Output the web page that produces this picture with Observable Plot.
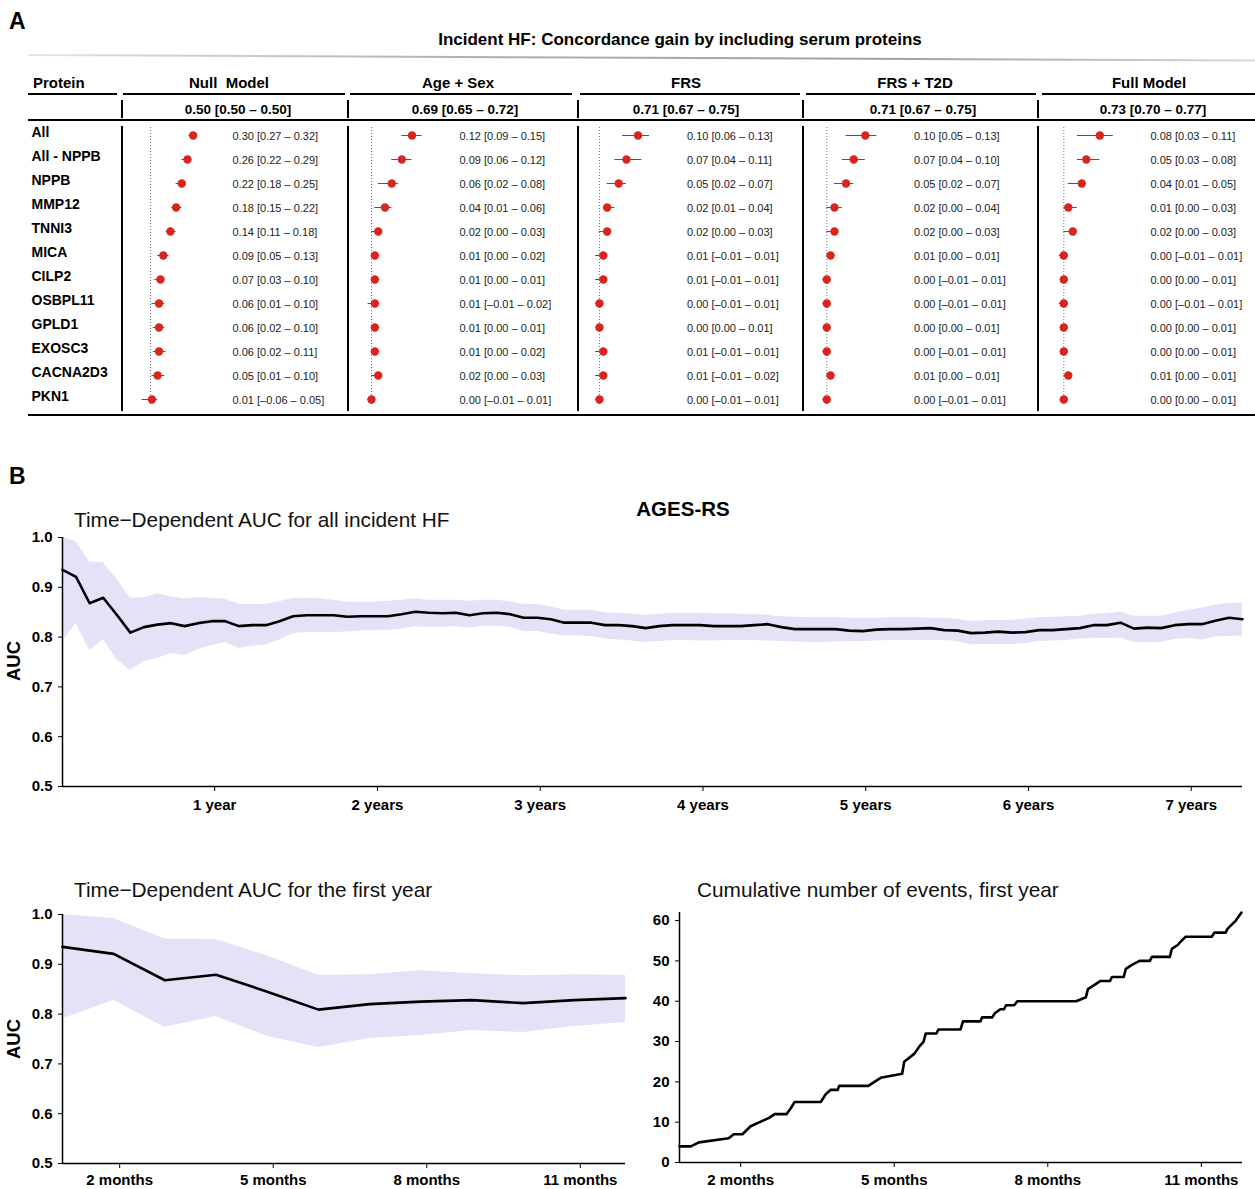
<!DOCTYPE html>
<html><head><meta charset="utf-8">
<script src="https://cdn.jsdelivr.net/npm/d3@7"></script>
<script src="https://cdn.jsdelivr.net/npm/@observablehq/plot@0.6"></script>
<style>
body{margin:0;background:#fff;font-family:"Liberation Sans",Arial,Helvetica,sans-serif;}
#fig{position:relative;width:1255px;height:1189px;overflow:hidden;background:#fff;}
.t{position:absolute;white-space:pre;color:#000;line-height:1;}
.ln{position:absolute;background:#000;}
</style></head><body><div id="fig"></div>
<script>
// ---------- Panel A data ----------
const proteins = ["All","All - NPPB","NPPB","MMP12","TNNI3","MICA","CILP2","OSBPL11","GPLD1","EXOSC3","CACNA2D3","PKN1"];
const modelNames = ["Null  Model","Age + Sex","FRS","FRS + T2D","Full Model"];
const modelBaseline = ["0.50 [0.50 – 0.50]","0.69 [0.65 – 0.72]","0.71 [0.67 – 0.75]","0.71 [0.67 – 0.75]","0.73 [0.70 – 0.77]"];

const nullEst = [0.30,0.26,0.22,0.18,0.14,0.09,0.07,0.06,0.06,0.06,0.05,0.01];
const nullLo  = [0.27,0.22,0.18,0.15,0.11,0.05,0.03,0.01,0.02,0.02,0.01,-0.06];
const nullHi  = [0.32,0.29,0.25,0.22,0.18,0.13,0.10,0.10,0.10,0.11,0.10,0.05];

const ageEst = [0.12,0.09,0.06,0.04,0.02,0.01,0.01,0.01,0.01,0.01,0.02,0.00];
const ageLo  = [0.09,0.06,0.02,0.01,0.00,0.00,0.00,-0.01,0.00,0.00,0.00,-0.01];
const ageHi  = [0.15,0.12,0.08,0.06,0.03,0.02,0.01,0.02,0.01,0.02,0.03,0.01];

const frsEst = [0.10,0.07,0.05,0.02,0.02,0.01,0.01,0.00,0.00,0.01,0.01,0.00];
const frsLo  = [0.06,0.04,0.02,0.01,0.00,-0.01,-0.01,-0.01,0.00,-0.01,-0.01,-0.01];
const frsHi  = [0.13,0.11,0.07,0.04,0.03,0.01,0.01,0.01,0.01,0.01,0.02,0.01];

const t2dEst = [0.10,0.07,0.05,0.02,0.02,0.01,0.00,0.00,0.00,0.00,0.01,0.00];
const t2dLo  = [0.05,0.04,0.02,0.00,0.00,0.00,-0.01,-0.01,0.00,-0.01,0.00,-0.01];
const t2dHi  = [0.13,0.10,0.07,0.04,0.03,0.01,0.01,0.01,0.01,0.01,0.01,0.01];

const fullEst = [0.08,0.05,0.04,0.01,0.02,0.00,0.00,0.00,0.00,0.00,0.01,0.00];
const fullLo  = [0.03,0.03,0.01,0.00,0.00,-0.01,0.00,-0.01,0.00,0.00,0.00,0.00];
const fullHi  = [0.11,0.08,0.05,0.03,0.03,0.01,0.01,0.01,0.01,0.01,0.01,0.01];

// ---------- Panel B data (monthly time-dependent AUC, months 1..88) ----------
const aucEst = [
0.935,0.921,0.868,0.879,0.845,0.809,0.820,0.825,0.828,0.822,0.828,0.832,
0.832,0.822,0.824,0.824,0.832,0.842,0.844,0.844,0.844,0.841,0.842,0.842,
0.842,0.846,0.851,0.849,0.848,0.849,0.844,0.848,0.849,0.846,0.839,0.839,
0.836,0.829,0.829,0.829,0.824,0.824,
0.822,0.818,0.822,0.824,0.824,0.824,0.822,0.822,0.822,0.824,0.826,0.820,
0.816,0.816,0.816,0.816,0.813,0.812,0.815,0.816,0.816,0.817,0.818,0.814,
0.813,0.808,0.809,0.811,0.809,0.810,0.814,0.814,0.816,0.818,0.824,0.824,
0.829,0.817,0.819,0.818,0.824,0.826,0.826,0.833,0.839,0.836];
const aucHi = [
1.000,0.992,0.951,0.950,0.917,0.878,0.879,0.887,0.881,0.877,0.879,0.878,
0.876,0.866,0.866,0.866,0.871,0.878,0.878,0.877,0.874,0.870,0.870,0.870,
0.872,0.874,0.877,0.874,0.874,0.874,0.872,0.874,0.874,0.871,0.866,0.866,
0.861,0.854,0.854,0.854,0.849,0.848,
0.846,0.844,0.846,0.848,0.848,0.848,0.847,0.847,0.846,0.846,0.844,0.841,
0.840,0.839,0.839,0.839,0.838,0.838,0.838,0.839,0.839,0.839,0.838,0.838,
0.836,0.832,0.833,0.834,0.834,0.836,0.839,0.840,0.841,0.842,0.846,0.847,
0.851,0.842,0.842,0.842,0.848,0.854,0.858,0.864,0.868,0.868];
const aucLo = [
0.790,0.828,0.773,0.795,0.755,0.733,0.751,0.757,0.767,0.763,0.775,0.783,
0.789,0.777,0.782,0.784,0.794,0.807,0.809,0.809,0.809,0.810,0.813,0.813,
0.814,0.816,0.821,0.820,0.820,0.821,0.818,0.822,0.822,0.820,0.811,0.811,
0.806,0.802,0.802,0.801,0.796,0.794,
0.792,0.789,0.791,0.793,0.793,0.792,0.792,0.793,0.793,0.793,0.792,0.791,
0.790,0.789,0.789,0.790,0.791,0.791,0.792,0.793,0.793,0.793,0.793,0.793,
0.791,0.784,0.785,0.785,0.785,0.787,0.791,0.792,0.793,0.796,0.797,0.797,
0.798,0.789,0.789,0.789,0.795,0.797,0.794,0.800,0.801,0.802];
const aucTicks = [0.5,0.6,0.7,0.8,0.9,1.0];
const yearTickMonths = [12,24,36,48,60,72,84];
const yearTickLabels = ["1 year","2 years","3 years","4 years","5 years","6 years","7 years"];
const monthTicks = [2,5,8,11];
const monthTickLabels = ["2 months","5 months","8 months","11 months"];

// cumulative number of events, first year
const evMonths = [1.00,1.22,1.38,1.96,2.06,2.23,2.39,2.74,2.86,3.09,3.15,3.25,3.76,3.86,3.95,4.09,4.12,4.69,4.81,4.93,5.35,5.39,5.59,5.70,5.77,5.81,6.02,6.06,6.49,6.54,6.88,6.91,7.11,7.16,7.27,7.34,7.38,7.54,7.60,8.75,8.94,8.98,9.10,9.22,9.41,9.45,9.68,9.72,9.84,9.99,10.19,10.23,10.58,10.62,10.74,10.81,10.89,11.40,11.45,11.67,11.71,11.79,11.87,11.98];
const evCount = [4,4,5,6,7,7,9,11,12,12,13,15,15,17,18,18,19,19,20,21,22,25,27,29,30,32,32,33,33,35,35,36,36,37,38,38,39,39,40,40,41,43,44,45,45,46,46,48,49,50,50,51,51,53,54,55,56,56,57,57,58,59,60,62];
const evTicks = [0,10,20,30,40,50,60];

// ---------- helpers ----------
const FONT = '"Liberation Sans", Arial, Helvetica, sans-serif';
const BAND = "#e4e2f7";
const fig = document.getElementById("fig");
function place(el, left, top){ el.style.position="absolute"; el.style.left=left+"px"; el.style.top=top+"px"; fig.appendChild(el); }
function txt(s, left, top, size, weight, opts={}){
  const d=document.createElement("div"); d.className="t"; d.textContent=s;
  d.style.fontSize=size+"px"; d.style.fontWeight=weight||"normal";
  if(opts.center!==undefined){ d.style.left=(opts.center-500)+"px"; d.style.width="1000px"; d.style.textAlign="center"; }
  else d.style.left=left+"px";
  d.style.top=top+"px"; if(opts.color) d.style.color=opts.color;
  fig.appendChild(d); return d;
}
function line(left, top, w, h, color){ const d=document.createElement("div"); d.className="ln"; Object.assign(d.style,{left:left+"px",top:top+"px",width:w+"px",height:h+"px"}); if(color) d.style.background=color; fig.appendChild(d); return d; }

// ---------- Panel A layout ----------
txt("A", 9, 10, 23, "bold");
txt("Incident HF: Concordance gain by including serum proteins", 0, 31, 17, "bold", {center: 680});
const g = line(28, 54, 1227, 2, "linear-gradient(90deg,#e4e4e4,#b0b0b0 35%,#a0a0a0 70%,#d8d8d8)");
g.style.transform="rotate(0.26deg)"; g.style.transformOrigin="left center";

txt("Protein", 33, 74.5, 15, "bold");
const titleCenters = [229, 458, 686, 915, 1149];
const baseCenters = [238, 465, 686, 923, 1153];
modelNames.forEach((m,i)=>{ txt(m, 0, 74.5, 15, "bold", {center: titleCenters[i]}); txt(modelBaseline[i], 0, 102.5, 13.5, "bold", {center: baseCenters[i]}); });
[[28,117],[123,345],[350,572],[580,800],[806,1036],[1042,1255]].forEach(([a,b])=>line(a,93,b-a,1.5));
const seps = [122,348,578,803,1038];
seps.forEach(x=>{ line(x-0.75,100,1.5,18); line(x-0.75,126,1.5,285); });
line(28,118.5,1227,2);
line(28,413.5,1227,2);

// rows occupy y 136..398 in the page; SVGs start at y=120 (point scale adds a 5px inset)
const ROW_TOP = 11, ROW_BOTTOM = 12, SVG_H = 295;

// protein labels
place(Plot.plot({
  width: 92, height: SVG_H, marginTop: ROW_TOP, marginBottom: ROW_BOTTOM, marginLeft: 0, marginRight: 0,
  y: {type: "point", domain: proteins, padding: 0, axis: null},
  style: {fontFamily: FONT, background: "transparent", overflow: "visible"},
  marks: [Plot.text(proteins, {frameAnchor: "left", y: d => d, text: d => d, dx: 3, dy: -3, fontSize: 14, fontWeight: "bold", textAnchor: "start", fill: "#000"})]
}), 28, 120);

const fmt = v => (Math.abs(v) < 1e-9 ? 0 : v).toFixed(2).replace("-", "–");
function forest(est, lo, hi, geo){
  const rows = proteins.map((p,i)=>({p, e: est[i], lo: lo[i], hi: hi[i]}));
  const dom = [d3.min(lo), d3.max(hi)];
  const left = geo.colLeft + 1, w = geo.colRight - geo.colLeft - 2;
  const p = Plot.plot({
    width: w, height: SVG_H, marginTop: ROW_TOP, marginBottom: ROW_BOTTOM, marginLeft: 0, marginRight: 0,
    x: {domain: dom, range: [geo.plotL - left, geo.plotR - left], axis: null},
    y: {type: "point", domain: proteins, padding: 0, axis: null},
    style: {fontFamily: FONT, background: "transparent", overflow: "visible"},
    marks: [
      Plot.ruleX([0], {stroke: "#777", strokeDasharray: "1,2", strokeWidth: 1, insetTop: -4, insetBottom: -2}),
      Plot.ruleY(rows, {y: "p", x1: "lo", x2: "hi", stroke: "#555", strokeWidth: 1}),
      Plot.dot(rows, {x: "e", y: "p", r: 4.2, fill: "#d7261d", stroke: "none"}),
      Plot.text(rows, {x: () => dom[1], y: "p", text: d => `${fmt(d.e)} [${fmt(d.lo)} – ${fmt(d.hi)}]`,
        textAnchor: "start", dx: geo.textX - geo.plotR, dy: 1, fontSize: 11, fill: "#222"})
    ]
  });
  place(p, left, 120);
}
forest(nullEst, nullLo, nullHi, {colLeft:122, colRight:348, plotL:141.5, plotR:195.5, textX:232});
forest(ageEst, ageLo, ageHi, {colLeft:348, colRight:578, plotL:367.6, plotR:421.6, textX:459});
forest(frsEst, frsLo, frsHi, {colLeft:578, colRight:803, plotL:595.1, plotR:649.1, textX:686.5});
forest(t2dEst, t2dLo, t2dHi, {colLeft:803, colRight:1038, plotL:822.4, plotR:876.4, textX:913.5});
forest(fullEst, fullLo, fullHi, {colLeft:1038, colRight:1256, plotL:1058.8, plotR:1112.8, textX:1150});

// ---------- Panel B ----------
txt("B", 9, 465, 23, "bold");
txt("AGES-RS", 0, 499, 20.5, "bold", {center: 683});
txt("Time−Dependent AUC for all incident HF", 74, 510, 20.8, "normal", {color:"#111"});
txt("Time−Dependent AUC for the first year", 74, 880, 20.8, "normal", {color:"#111"});
txt("Cumulative number of events, first year", 697, 880, 20.8, "normal", {color:"#111"});
function vlabel(s, cx, cy){ const d=txt(s,0,0,18.5,"bold"); Object.assign(d.style,{left:(cx-50)+"px",top:(cy-10)+"px",width:"100px",height:"20px",lineHeight:"20px",textAlign:"center",transform:"rotate(-90deg)"}); }
vlabel("AUC", 14, 661);
vlabel("AUC", 14, 1039);

const aucAll = aucEst.map((v,i)=>({m: i+1, est: v, lo: aucLo[i], hi: aucHi[i]}));
const aucYear1 = aucAll.slice(0, 12);
const axStyle = {fontFamily: FONT, fontSize: "15px", fontWeight: "bold", background: "transparent", color: "#000"};

place(Plot.plot({
  width: 1255, height: 300, marginLeft: 62, marginRight: 13, marginTop: 12, marginBottom: 39,
  x: {domain: [1, 88]}, y: {domain: [0.5, 1.0]},
  style: axStyle,
  marks: [
    Plot.areaY(aucAll, {x: "m", y1: "lo", y2: "hi", fill: BAND}),
    Plot.lineY(aucAll, {x: "m", y: "est", stroke: "#000", strokeWidth: 2.6}),
    Plot.ruleX([1], {y1: 0.5, y2: 1.0, stroke: "#000", strokeWidth: 1.5}),
    Plot.ruleY([0.5], {stroke: "#000", strokeWidth: 1.5}),
    Plot.axisY({ticks: aucTicks, tickFormat: d => d.toFixed(1), tickSize: 4, tickPadding: 6, label: null, fontSize: 15, fontWeight: "bold"}),
    Plot.axisX({ticks: yearTickMonths, tickFormat: d => yearTickLabels[yearTickMonths.indexOf(d)], tickSize: 5, tickPadding: 8, label: null, fontSize: 15, fontWeight: "bold", dx: 3})
  ]
}), 0, 525);

place(Plot.plot({
  width: 640, height: 287, marginLeft: 62, marginRight: 15, marginTop: 12, marginBottom: 26,
  x: {domain: [1, 12]}, y: {domain: [0.5, 1.0]},
  style: axStyle,
  marks: [
    Plot.areaY(aucYear1, {x: "m", y1: "lo", y2: "hi", fill: BAND}),
    Plot.lineY(aucYear1, {x: "m", y: "est", stroke: "#000", strokeWidth: 2.6}),
    Plot.ruleX([1], {y1: 0.5, y2: 1.0, stroke: "#000", strokeWidth: 1.5}),
    Plot.ruleY([0.5], {stroke: "#000", strokeWidth: 1.5}),
    Plot.axisY({ticks: aucTicks, tickFormat: d => d.toFixed(1), tickSize: 4, tickPadding: 6, label: null, fontSize: 15, fontWeight: "bold"}),
    Plot.axisX({ticks: monthTicks, tickFormat: d => monthTickLabels[monthTicks.indexOf(d)], tickSize: 5, tickPadding: 6, label: null, fontSize: 15, fontWeight: "bold", dx: 6})
  ]
}), 0, 902);

const events = evMonths.map((m,i)=>({m, n: evCount[i]}));
place(Plot.plot({
  width: 625, height: 287, marginLeft: 49, marginRight: 13, marginTop: 10, marginBottom: 27,
  x: {domain: [1, 12]}, y: {domain: [0, 62]},
  style: axStyle,
  marks: [
    Plot.line(events, {x: "m", y: "n", stroke: "#000", strokeWidth: 2.6}),
    Plot.ruleX([1], {y1: 0, y2: 62, stroke: "#000", strokeWidth: 1.5}),
    Plot.ruleY([0], {stroke: "#000", strokeWidth: 1.5}),
    Plot.axisY({ticks: evTicks, tickSize: 4, tickPadding: 6, label: null, fontSize: 15, fontWeight: "bold"}),
    Plot.axisX({ticks: monthTicks, tickFormat: d => monthTickLabels[monthTicks.indexOf(d)], tickSize: 5, tickPadding: 7, label: null, fontSize: 15, fontWeight: "bold", dx: 10})
  ]
}), 630, 902);
</script></body></html>
